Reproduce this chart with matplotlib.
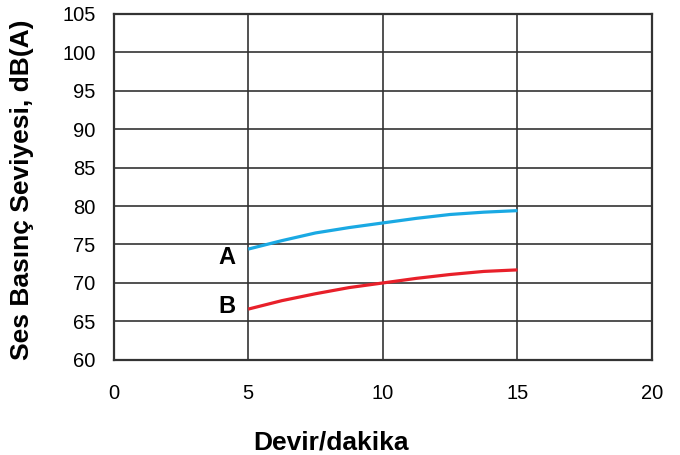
import matplotlib.pyplot as plt

plt.rcParams['font.family'] = ['Liberation Sans', 'DejaVu Sans']

rpm = [5, 6.25, 7.5, 8.75, 10, 11.25, 12.5, 13.75, 15]
level_a = [74.4, 75.5, 76.5, 77.2, 77.8, 78.4, 78.9, 79.2, 79.4]
level_b = [66.6, 67.7, 68.6, 69.4, 70.0, 70.6, 71.1, 71.5, 71.7]

x_ticks = [0, 5, 10, 15, 20]
y_ticks = [60, 65, 70, 75, 80, 85, 90, 95, 100, 105]

fig = plt.figure(figsize=(6.8, 4.55), dpi=100)
ax = fig.add_axes([0.167, 0.209, 0.792, 0.761])

ax.plot(rpm, level_a, color='#1aa9e3', lw=2.3, solid_capstyle='butt')
ax.plot(rpm, level_b, color='#e8202a', lw=2.3, solid_capstyle='butt')

ax.text(4.2, 73.3, 'A', fontsize=17, fontweight='bold', ha='center', va='center')
ax.text(4.2, 66.9, 'B', fontsize=17, fontweight='bold', ha='center', va='center')

ax.set_xlim(0, 20)
ax.set_ylim(60, 105)
ax.set_xticks(x_ticks)
ax.set_yticks(y_ticks)
ax.grid(True, color='#333333', lw=1.2)
ax.tick_params(length=0, labelsize=14.5, pad=13)
ax.tick_params(axis='x', pad=17)
for s in ax.spines.values():
    s.set_linewidth(1.6)
    s.set_color('#333333')

ax.set_xlabel('Devir/dakika', fontsize=19, fontweight='bold', labelpad=18)
ax.xaxis.set_label_coords(0.404, -0.205)
ax.set_ylabel('Ses Basınç Seviyesi, dB(A)', fontsize=19, fontweight='bold')
ax.yaxis.set_label_coords(-0.147, 0.49)

fig.savefig('out.png', dpi=100)
